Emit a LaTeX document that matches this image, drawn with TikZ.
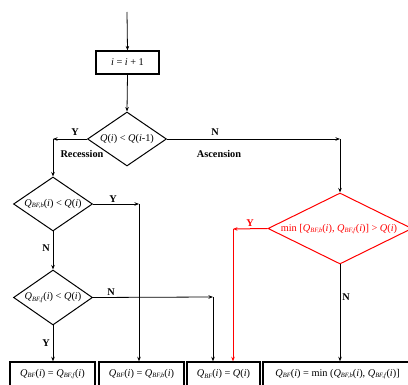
\documentclass[tikz,border=0pt]{standalone}
\usepackage{fontspec}
\setmainfont{Liberation Serif}
\usetikzlibrary{shapes.geometric,arrows.meta}
\newcommand{\mQ}[1]{\textit{Q}\raisebox{-0.35ex}{\fontsize{6.5}{7}\selectfont\textit{#1}}}
\newcommand{\mI}{(\textit{i})}
\begin{document}
\begin{tikzpicture}[x=1pt,y=-1pt,
  line width=0.8pt,
  >={Stealth[length=4.5pt,width=3.5pt]},
  txt/.style={font=\fontsize{10.3}{12}\selectfont, inner sep=0pt},
  lab/.style={font=\fontsize{10.3}{12}\selectfont\bfseries, inner sep=0pt},
  dia/.style={draw, diamond, inner sep=0pt, line width=1pt},
  box/.style={draw, rectangle, line width=1.4pt, inner sep=0pt, minimum height=24pt, font=\fontsize{10.3}{12}\selectfont},
  arr/.style={->}
]
\useasboundingbox (0,0) rectangle (408,385);
\coordinate (start) at (127,12);
\node[box, minimum width=63pt, minimum height=23pt, line width=1.2pt] (inc) at (127.5,62.5) {\textit{i} = \textit{i} + 1};
\node[dia, minimum width=79pt, minimum height=54pt] (d1) at (127,139) {};
\node[txt] (t1) at (d1.center) {\textit{Q}\mI{} < \textit{Q}(\textit{i}-1)};
\node[dia, minimum width=79pt, minimum height=54pt] (d2) at (53,204) {};
\node[txt] (t2) at (d2.center) {\mQ{BF,b}\mI{} < \textit{Q}\mI};
\node[dia, minimum width=79pt, minimum height=55pt] (d3) at (53,297.5) {};
\node[txt] (t3) at (d3.center) {\mQ{BF,f}\mI{} < \textit{Q}\mI};
\node[dia, draw=red, minimum width=144pt, minimum height=71pt] (d4) at (340,228.5) {};
\node[txt, text=red] (t4) at (339,229) {min [\mQ{BF,b}\mI, \mQ{BF,f}\mI] > \textit{Q}\mI};

\node[box, minimum width=85pt] (b1) at (52.5,374) {\mQ{BF}\mI{} = \mQ{BF,f}\mI};
\node[box, minimum width=85pt] (b2) at (141.5,374) {\mQ{BF}\mI{} = \mQ{BF,b}\mI};
\node[box, minimum width=73pt] (b3) at (223.5,374) {\mQ{BF}\mI{} = \textit{Q}\mI};
\node[box, minimum width=149pt] (b4) at (337.5,374) {};
\node[txt, anchor=west] (t5) at (275,374) {\mQ{BF}\mI{} = min (\mQ{BF,b}\mI, \mQ{BF,f}\mI]};

\coordinate (c1) at (53,139);
\coordinate (c2) at (340,139);
\coordinate (c3) at (139,204);
\coordinate (c4) at (213,297);
\coordinate (c5) at (233,229);

\draw[arr] (start) -- (inc.north);
\draw[arr] (inc.south) -- (d1.north);
\draw[arr] (d1.west) -- (c1);
\draw[arr] (c1) -- (d2.north);
\draw[arr] (d1.east) -- (c2);
\draw[arr] (c2) -- (d4.north);
\draw[arr] (d2.east) -- (c3);
\draw[arr] (c3) -- (c3 |- b2.north);
\draw[arr] (d2.south) -- (d3.north);
\draw[arr] (d3.east) -- (c4);
\draw[arr] (c4) -- (c4 |- b3.north);
\draw[arr] (d3.south) -- (b1.north -| d3.south);
\draw[arr, red, line width=1pt] (d4.west) -- (c5);
\draw[arr, red, line width=1pt] (c5) -- (c5 |- b3.north);
\draw[arr] (d4.south) -- (d4.south |- b4.north);

\node[lab] (ly1) at (75,132) {Y};
\node[lab] (ln1) at (215,132) {N};
\node[lab] (rec) at (82,154) {Recession};
\node[lab] (asc) at (219,154) {Ascension};
\node[lab] (ly2) at (113,199) {Y};
\node[lab] (ln2) at (46,248) {N};
\node[lab] (ln3) at (111,292) {N};
\node[lab] (ly3) at (46,343) {Y};
\node[lab, text=red] (ly4) at (250,223) {Y};
\node[lab] (ln4) at (346,297) {N};
\end{tikzpicture}
\end{document}
